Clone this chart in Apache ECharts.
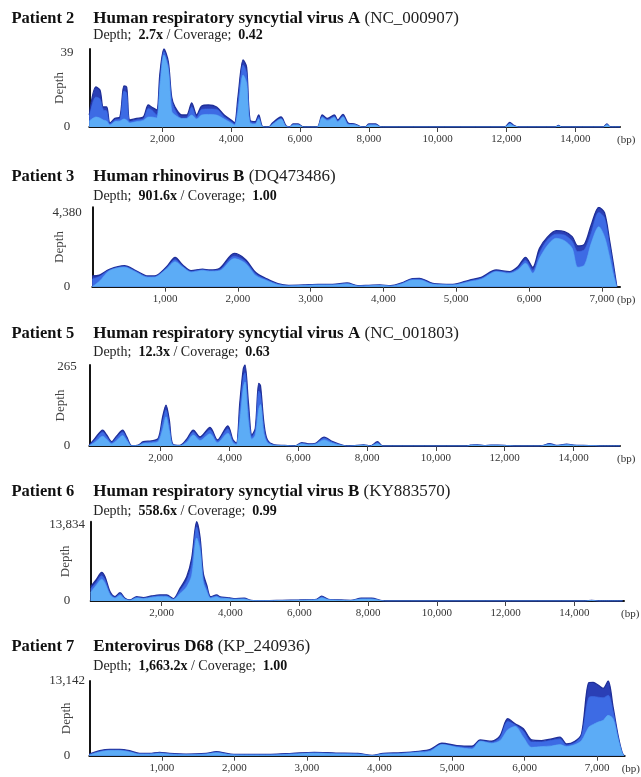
<!DOCTYPE html>
<html>
<head>
<meta charset="utf-8">
<script src="https://cdn.jsdelivr.net/npm/echarts@6/dist/echarts.min.js"></script>
<style>
html,body{margin:0;padding:0;background:#fff;}
#chart{width:641px;height:777px;}
</style>
</head>
<body>
<div id="chart"></div>
<script>
// ---------- text ----------
const patients = ['Patient 2', 'Patient 3', 'Patient 5', 'Patient 6', 'Patient 7'];
const viruses = ['Human respiratory syncytial virus A', 'Human rhinovirus B', 'Human respiratory syncytial virus A', 'Human respiratory syncytial virus B', 'Enterovirus D68'];
const accessions = ['(NC_000907)', '(DQ473486)', '(NC_001803)', '(KY883570)', '(KP_240936)'];
const depthTexts = ['2.7x', '901.6x', '12.3x', '558.6x', '1,663.2x'];
const coverageTexts = ['0.42', '1.00', '0.63', '0.99', '1.00'];
const yMaxValues = [39, 4380, 265, 13834, 13142];
const xTicksLong = [2000, 4000, 6000, 8000, 10000, 12000, 14000];
const xTicksShort = [1000, 2000, 3000, 4000, 5000, 6000, 7000];

// ---------- data (position in bp, depth of outer / middle / inner layers) ----------
const p2Pos   = [-120,70,190,285,384,480,625,770,887,965,1061,1256,1450,1594,1691,1837,1933,2050,2175,2273,2370,2564,2709,2855,3000,3145,3340,3580,3800,4000,4100,4200,4350,4450,4550,4700,4800,4900,5000,5100,5200,5450,5600,5700,5800,5950,6100,6500,6650,6800,7000,7100,7250,7400,7600,7800,7900,8000,8200,8350,8450,11950,12100,12200,12350,13420,13510,13600,14820,14920,15020,15300];
const p2Outer = [6,20,18.5,10,10,2,4.3,5,20.5,20,3.5,4.3,5,11,10,8.5,27,39,32.7,15,10,6,6,12,6,10.5,11,10,6,3.5,2,15,33.5,30,3.5,2.7,6,0.5,0,0,2,5,0.5,0,1.5,1.5,0,0,6,4.3,6,3.5,6.3,2,1.5,0,0,1.5,1.5,0,0,0,2.3,1,0,0,0.8,0,0,1.6,0,0];
const p2Mid   = [5,15,14,8.5,8,1.5,3.5,4,18,17,2.7,3.5,4,9.3,8.5,6,23.5,37.7,31,13.5,8.5,4.3,4.5,10,4.8,8.8,9,8.8,5,2.7,1.5,12,31,27,2.7,2,5,0.3,0,0,1.5,4.3,0.3,0,1.2,1.2,0,0,5.3,3.7,5.3,3,5.5,1.5,1.2,0,0,1.2,1.2,0,0,0,1.8,0.8,0,0,0.6,0,0,1.3,0,0];
const p2Inner = [3,5,4.5,3.5,3,1,2.7,3,4,3.5,2,2.7,3.3,5,5,4.5,20,36,29,8,6,4.3,4.3,6,4,6,6.3,6,4,2,1,8,26,22,2,1.5,4,0.2,0,0,1.2,4,0.2,0,1,1,0,0,4.8,3.2,4.8,2.6,5,1.2,1,0,0,1,1,0,0,0,1.5,0.6,0,0,0.5,0,0,1.1,0,0];

const p3Pos   = [0,98,235,441,602,761,853,1014,1138,1242,1357,1517,1609,1750,1950,2100,2250,2400,2550,2700,2900,3100,3300,3500,3650,3800,3950,4100,4250,4400,4495,4678,4953,5182,5343,5549,5732,5846,5952,6052,6144,6258,6373,6487,6593,6671,6763,6854,6959,7037,7106,7165,7206];
const p3Outer = [590,640,960,1160,880,590,590,1070,1620,1200,880,975,920,1010,1835,1516,767,430,170,75,94,130,130,206,56,75,94,56,206,450,460,184,130,368,515,920,830,1100,1620,1070,2116,2760,3090,3036,2760,2245,2355,3400,4380,4085,2576,1100,0];
const p3Mid   = [420,560,920,1110,840,550,555,1010,1480,1130,840,930,880,940,1680,1400,680,380,140,55,75,110,110,180,42,60,76,42,180,410,415,155,110,320,460,870,780,1000,1450,900,1850,2600,2900,2850,2500,1932,2050,2950,4100,3800,2300,880,0];
const p3Inner = [0,300,880,1070,800,515,520,960,1380,1080,800,900,850,880,1550,1300,600,330,110,40,60,90,90,150,30,45,60,30,150,370,370,130,92,276,405,830,736,920,1290,736,1564,2300,2670,2540,2116,1070,1196,2392,3312,2760,1656,552,0];

const p5Pos   = [-75,90,314,430,575,721,895,1012,1157,1349,1494,1738,1930,2058,2154,2250,2349,2561,2756,2948,3142,3433,3650,3950,4100,4200,4300,4400,4450,4550,4650,4750,4850,4900,5000,5100,5300,5600,5900,6100,6300,6500,6750,7000,7300,7500,7900,8100,8300,8450,10900,11000,11200,11400,11600,11800,12100,12300,13000,13100,13300,13500,13800,14000,14300,14600,14800,15350];
const p5Outer = [3,25,52,36,14,33,52,30,1,3,14,17,25,96,134,85,6.5,2,22,52,30,61,20,66,20,9,141,252,265,141,36,58,205,198,75,20,4,2,0,11,7,9,29,14,2,0,4,0,14,0,0,3,4,1,3,3,1,0,0,1,8,2,6,3,2,1,0,0];
const p5Mid   = [2,20,45,30,11,27,45,25,0.5,2,11,14,21,80,118,70,5,1.5,18,45,25,52,16,56,16,7,115,225,240,115,30,50,180,170,60,16,3,1.5,0,9,5.5,7.5,25,12,1.5,0,3,0,11,0,0,2.5,3.2,0.8,2.5,2.5,0.8,0,0,0.8,6.5,1.6,5,2.5,1.6,0.8,0,0];
const p5Inner = [1,12,32,22,7,18,34,18,0.3,1.5,8,10,15,55,96,50,3.5,1,12,36,18,40,11,42,11,5,80,190,210,80,22,36,120,136,40,11,2,1,0,7,4,6,20,9,1,0,2.5,0,8,0,0,2,2.5,0.6,2,2,0.6,0,0,0.6,5,1.2,4,2,1.2,0.6,0,0];

const p6Pos   = [-64,90,256,352,497,642,788,933,1078,1273,1465,1709,1950,2145,2337,2532,2727,2872,3017,3113,3209,3308,3424,3599,3700,3900,4100,4400,4600,5000,5500,6000,6500,6650,6850,7200,7500,7800,8100,8400,8550,14300,14500,14700,15400];
const p6Outer = [2500,3660,5000,4240,1630,755,1450,465,175,755,580,870,1045,1045,406,2200,4240,7430,13834,11200,4820,2790,755,1045,720,600,420,480,120,60,120,180,300,840,300,180,120,480,480,60,0,0,120,0,0];
const p6Mid   = [2100,3200,4400,3700,1350,620,1250,380,140,640,490,750,900,900,330,1800,3500,6300,12900,10300,4000,2300,620,900,610,510,350,400,100,50,100,150,250,700,250,150,100,400,400,50,0,0,100,0,0];
const p6Inner = [1500,2700,3800,3100,1100,500,1000,300,100,520,400,620,760,760,260,1300,2500,4500,11000,9000,3300,1700,500,760,500,420,290,330,80,40,80,120,200,560,200,120,80,330,330,40,0,0,80,0,0];

const p7Pos   = [0,144,282,419,556,694,831,969,1106,1335,1610,1750,1950,2200,2500,2800,3100,3400,3700,3900,4050,4300,4541,4700,4861,5067,5274,5389,5548,5663,5768,5870,5984,6098,6235,6373,6488,6579,6694,6785,6886,6946,7014,7083,7152,7220,7289,7344,7371];
const p7Outer = [290,880,1115,1115,880,410,410,590,410,290,410,700,290,235,235,410,590,470,410,60,410,530,770,1100,2190,1775,1660,2780,2545,3550,6510,5625,4735,2780,2665,2960,3255,2070,2545,3850,12850,12900,12430,11840,13142,8580,3550,590,0];
const p7Mid   = [200,760,1000,1000,760,330,330,500,330,220,330,600,220,170,170,330,500,390,330,30,330,440,680,950,2000,1620,1450,2600,2350,3200,6000,5400,4300,2400,2400,2700,2950,1850,2300,3500,10240,10400,10300,10200,10650,7800,3300,550,0];
const p7Inner = [100,650,900,900,650,260,260,400,260,160,260,500,160,120,120,260,420,320,260,15,260,360,590,800,1950,1480,1185,2545,2190,2660,4560,5150,3255,1480,1600,1720,1950,1600,1950,2660,5030,5500,5920,6215,7100,6500,3000,500,0];

const panelData = [
  {pos: p2Pos, layers: [p2Outer, p2Mid, p2Inner], ticks: xTicksLong},
  {pos: p3Pos, layers: [p3Outer, p3Mid, p3Inner], ticks: xTicksShort},
  {pos: p5Pos, layers: [p5Outer, p5Mid, p5Inner], ticks: xTicksLong},
  {pos: p6Pos, layers: [p6Outer, p6Mid, p6Inner], ticks: xTicksLong},
  {pos: p7Pos, layers: [p7Outer, p7Mid, p7Inner], ticks: xTicksShort}
];

// ---------- layout (pixels) ----------
const layout = [
  {titleY: 18.3, subY: 35.7, top: 49,    bottom: 127,   left: 89.3, right: 620,   xMin: -120, xMax: 15300, labOff: 3.7, nameX: 60},
  {titleY: 176.7, subY: 196.7, top: 207.3, bottom: 286.7, left: 92.3, right: 620,   xMin: 0,    xMax: 7250,  labOff: 5.7, nameX: 60},
  {titleY: 333.3, subY: 352.3, top: 365,   bottom: 446,   left: 89.3, right: 620,   xMin: -75,  xMax: 15350, labOff: 1.7, nameX: 61},
  {titleY: 491.7, subY: 511.7, top: 521.7, bottom: 601,   left: 90.7, right: 624,   xMin: -64,  xMax: 15440, labOff: 3.3, nameX: 66},
  {titleY: 646.7, subY: 666.7, top: 681,   bottom: 755.7, left: 89.3, right: 626.7, xMin: 0,    xMax: 7380,  labOff: 0,   nameX: 66.7}
];

const FONT = '"Liberation Serif", "Times New Roman", serif';
const layerColors = ['#2a3fb6', '#3d6be4', '#5cacf6'];
const lineColors = ['#1f2f98', '#3d6be4', '#5cacf6'];
const fmt = v => Number(v).toLocaleString('en-US');

const titles = [], grids = [], xAxes = [], yAxes = [], series = [];
layout.forEach((L, i) => {
  titles.push({
    left: 11.5, top: L.titleY - 9.5, padding: 0,
    text: patients[i],
    textStyle: {fontFamily: FONT, fontWeight: 'bold', fontSize: 16.5, lineHeight: 19, color: '#111'}
  });
  titles.push({
    left: 93.3, top: L.titleY - 9.5, padding: 0,
    text: '{b|' + viruses[i] + '}{r| ' + accessions[i] + '}',
    textStyle: {rich: {
      b: {fontFamily: FONT, fontWeight: 'bold', fontSize: 17, lineHeight: 19, color: '#111'},
      r: {fontFamily: FONT, fontWeight: 'normal', fontSize: 17, lineHeight: 19, color: '#222'}
    }}
  });
  titles.push({
    left: 93.3, top: L.subY - 8, padding: 0,
    text: '{r|Depth;  }{b|' + depthTexts[i] + '}{r| / Coverage;  }{b|' + coverageTexts[i] + '}',
    textStyle: {rich: {
      b: {fontFamily: FONT, fontWeight: 'bold', fontSize: 14, lineHeight: 16, color: '#111'},
      r: {fontFamily: FONT, fontWeight: 'normal', fontSize: 14, lineHeight: 16, color: '#222'}
    }}
  });
  grids.push({left: L.left, top: L.top, width: L.right - L.left, height: L.bottom - L.top, containLabel: false});
  const P = panelData[i];
  xAxes.push({
    gridIndex: i, type: 'value', min: L.xMin, max: L.xMax,
    axisLine: {show: true, onZero: false, lineStyle: {color: '#151515', width: 2}},
    axisTick: {show: true, customValues: P.ticks, length: 5, lineStyle: {color: '#444', width: 1}},
    axisLabel: {customValues: P.ticks, formatter: fmt, fontFamily: FONT, fontSize: 11, color: '#333', margin: 7},
    splitLine: {show: false},
    name: '(bp)', nameLocation: 'end', nameGap: -3, nameMoveOverlap: false,
    nameTextStyle: {fontFamily: FONT, fontSize: 11, color: '#333', verticalAlign: 'top', padding: [8, 0, 0, 0]}
  });
  const ymax = yMaxValues[i];
  yAxes.push({
    gridIndex: i, type: 'value', min: 0, max: ymax,
    axisLine: {show: true, onZero: false, lineStyle: {color: '#151515', width: 2}},
    axisTick: {show: false},
    splitLine: {show: false},
    axisLabel: {
      customValues: [0, ymax], align: 'center', margin: L.left - 67,
      formatter: v => (v === ymax ? '{t|' + fmt(v) + '}' : '{z|' + fmt(v) + '}'),
      rich: {
        t: {fontFamily: FONT, fontSize: 13, color: '#333', padding: [L.labOff * 2, 0, 0, 0]},
        z: {fontFamily: FONT, fontSize: 13, color: '#333'}
      }
    },
    name: 'Depth', nameLocation: 'middle', nameGap: L.left - L.nameX - 6.5, nameMoveOverlap: false,
    nameTextStyle: {fontFamily: FONT, fontSize: 13, color: '#444'}
  });
  P.layers.forEach((vals, k) => {
    series.push({
      type: 'line', xAxisIndex: i, yAxisIndex: i,
      data: P.pos.map((x, j) => [x, vals[j]]),
      smooth: 0.3, symbol: 'none', silent: true,
      lineStyle: {width: k === 0 ? 1.3 : 0.6, color: lineColors[k]},
      areaStyle: {color: layerColors[k], opacity: 1},
      z: 2 + k
    });
  });
});

const chart = echarts.init(document.getElementById('chart'), null, {renderer: 'canvas'});
chart.setOption({
  animation: false,
  backgroundColor: '#ffffff',
  title: titles,
  grid: grids,
  xAxis: xAxes,
  yAxis: yAxes,
  series: series
});
</script>
</body>
</html>
